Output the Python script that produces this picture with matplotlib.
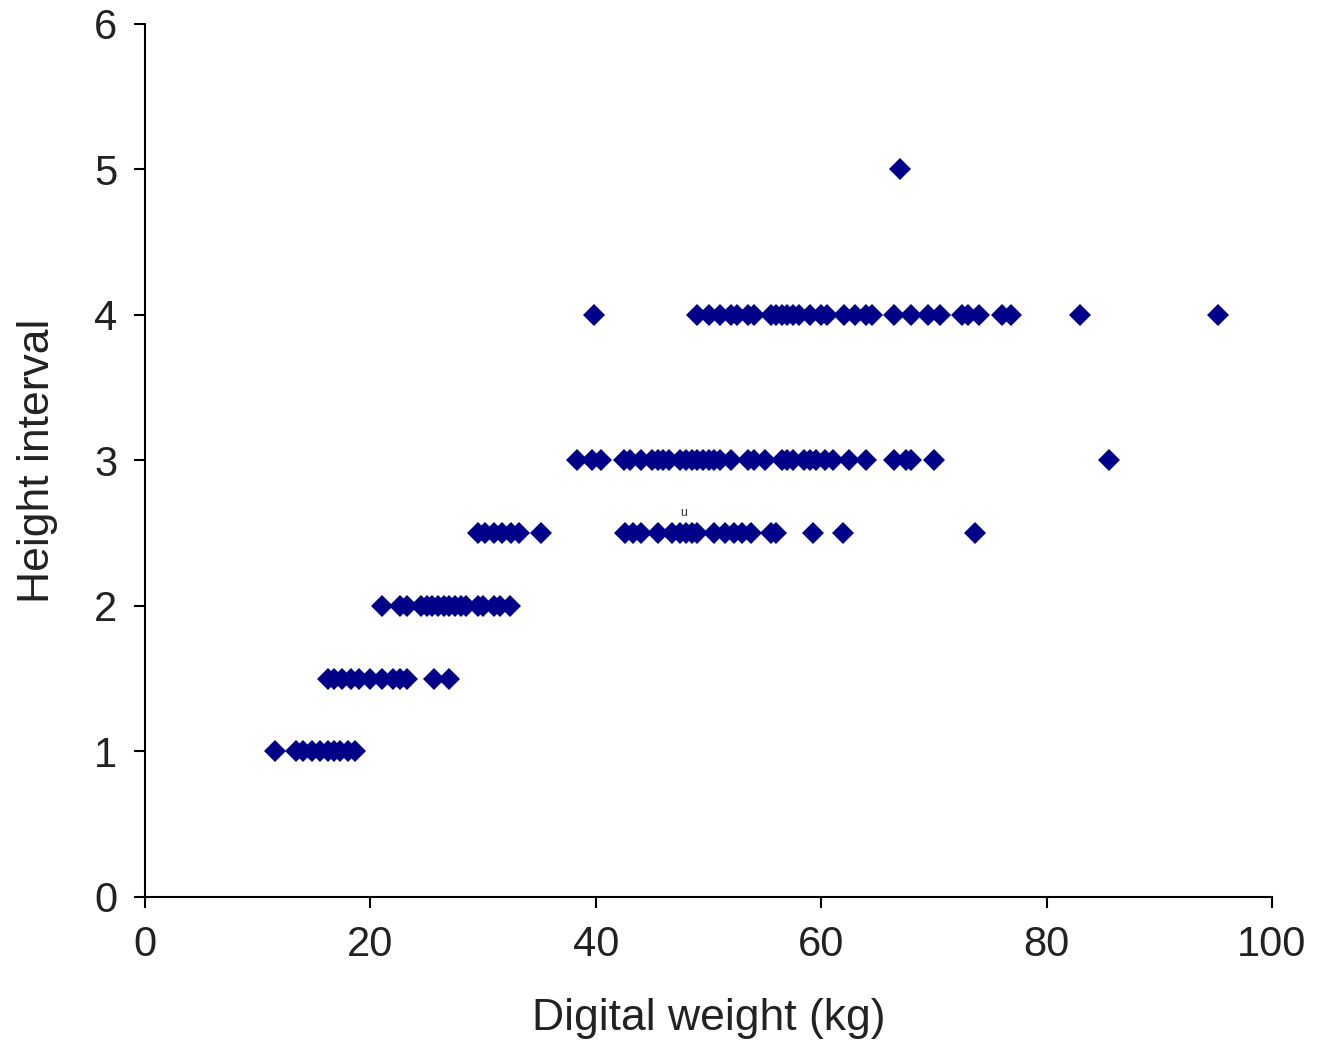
import matplotlib.pyplot as plt

# Height interval rows -> digital weight values (kg)
w_10 = [11.5, 13.4, 14.0, 14.8, 15.5, 16.2, 16.8, 17.3, 18.0, 18.6]
w_15 = [16.2, 16.8, 17.5, 18.3, 19.0, 20.0, 21.0, 22.0, 22.6, 23.2, 25.6, 27.0]
w_20 = [21.0, 22.6, 23.2, 24.5, 25.0, 25.5, 26.0, 26.5, 27.0, 27.5, 28.0,
        28.5, 29.5, 30.0, 31.0, 31.5, 32.4]
w_25 = [29.5, 30.2, 31.0, 31.7, 32.5, 33.2, 35.1,
        42.6, 43.3, 44.0, 45.5, 46.8, 47.5, 48.0, 48.5, 49.0, 50.5, 51.5,
        52.3, 53.0, 53.8, 55.5, 56.0, 59.3, 61.9, 73.6]
w_30 = [38.3, 39.7, 40.5, 42.5, 43.0, 44.0, 45.0, 45.5, 46.0, 46.5, 47.5,
        48.0, 48.5, 49.0, 49.5, 50.0, 50.5, 51.0, 52.0, 53.5, 54.0, 55.0,
        56.5, 57.0, 57.5, 58.5, 59.0, 59.5, 60.3, 61.0, 62.5, 64.0, 66.5,
        67.5, 68.0, 70.0, 85.5]
w_40 = [39.8, 49.0, 50.0, 51.0, 52.0, 52.5, 53.5, 54.0, 55.5, 56.0, 56.5,
        57.0, 57.5, 58.0, 59.0, 60.0, 60.5, 62.0, 63.0, 64.0, 64.5, 66.5,
        68.0, 69.5, 70.5, 72.5, 73.0, 74.0, 76.0, 76.8, 83.0, 95.2]
w_50 = [67.0]

rows = [(1.0, w_10), (1.5, w_15), (2.0, w_20), (2.5, w_25),
        (3.0, w_30), (4.0, w_40), (5.0, w_50)]

plt.rcParams["font.family"] = ["Liberation Sans", "DejaVu Sans"]

fig = plt.figure(figsize=(13.26, 10.42), dpi=100)
ax = fig.add_axes([0.1094, 0.1392, 0.8499, 0.8378])

for h, ws in rows:
    ax.plot(ws, [h] * len(ws), linestyle="none", marker="D",
            markersize=11, color="#000088", markeredgewidth=0)

# stray label in the original figure
ax.text(47.8, 2.6, "u", fontsize=9, ha="center", va="bottom", color="#333333")

ax.set_xlim(0, 100)
ax.set_ylim(0, 6)
ax.set_xticks(range(0, 101, 20))
ax.set_yticks(range(0, 7))
ax.set_xlabel("Digital weight (kg)", fontsize=32, labelpad=24, color="#222222")
ax.set_ylabel("Height interval", fontsize=32, labelpad=26, color="#222222")
ax.tick_params(labelsize=30, length=8, width=1.5, direction="out", pad=12,
               labelcolor="#222222")
ax.spines[["top", "right"]].set_visible(False)
for s in ["left", "bottom"]:
    ax.spines[s].set_linewidth(1.5)

fig.savefig("out.png", dpi=100)
